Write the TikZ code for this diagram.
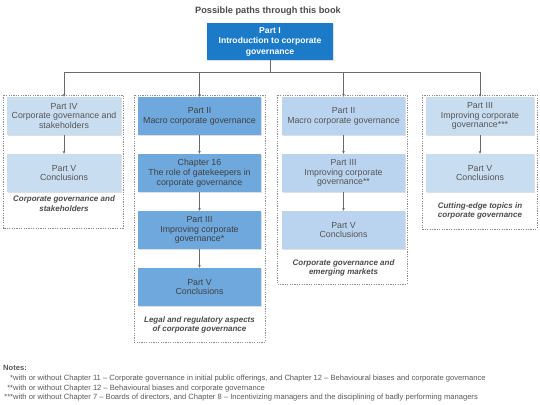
\documentclass[tikz,border=0pt]{standalone}
\usepackage{fontspec}
\setmainfont{Liberation Sans}
\usetikzlibrary{arrows.meta,shadows}
\definecolor{darkblue}{HTML}{1B7BC8}
\definecolor{midblue}{HTML}{6EA8DD}
\definecolor{lightblue}{HTML}{C9DDF1}
\definecolor{lightblueb}{HTML}{BAD3EF}
\definecolor{txtgray}{HTML}{555555}
\definecolor{linegray}{HTML}{6A6A6A}
\definecolor{dashgray}{HTML}{8A8A8A}
\tikzset{
  boxbase/.style={draw=none, align=center, minimum height=38pt, inner sep=1pt,
    font=\fontsize{8.8}{9.8}\selectfont, text=txtgray,
    drop shadow={shadow xshift=0.5pt, shadow yshift=-1.3pt, opacity=0.25}},
  lightbox/.style={boxbase, fill=lightblue},
  lightboxb/.style={boxbase, fill=lightblueb},
  midbox/.style={boxbase, fill=midblue, text=black!75},
  topbox/.style={boxbase, fill=darkblue, text=white, font=\bfseries\fontsize{8.6}{10.5}\selectfont},
  container/.style={draw=dashgray, line width=0.5pt, dash pattern=on 1.2pt off 1.2pt},
  grouplabel/.style={align=center, text=black!70, font=\bfseries\itshape\fontsize{8}{9.8}\selectfont},
  conn/.style={draw=linegray, line width=0.5pt},
  arr/.style={conn, -{Stealth[length=3pt,width=2.6pt]}},
  notetext/.style={anchor=base west, inner sep=0pt, text=black!65, font=\fontsize{7.6}{9}\selectfont}
}
\begin{document}
\begin{tikzpicture}[x=1pt,y=-1pt]
\useasboundingbox[fill=white] (0,0) rectangle (540,404);
% title
\node[font=\bfseries\fontsize{9.2}{11}\selectfont, text=black!70] (title) at (268,11) {Possible paths through this book};
% top box
\node[topbox, minimum width=126pt, minimum height=37pt] (p1) at (270,41.5) {Part I\\Introduction to corporate\\governance};
% containers
\draw[container] (3,95) rectangle (123,228);
\draw[container] (134,95) rectangle (265,342);
\draw[container] (277,95) rectangle (407,284);
\draw[container] (422,95) rectangle (537,229);
% column 1
\node[lightbox, minimum width=114pt] (a1) at (64,116) {Part IV\\Corporate governance and\\stakeholders};
\node[lightbox, minimum width=114pt] (a2) at (64,173) {Part V\\Conclusions};
\node[grouplabel] (la) at (64,204) {Corporate governance and\\stakeholders};
% column 2
\node[midbox, minimum width=123pt] (b1) at (199.5,116) {Part II\\Macro corporate governance};
\node[midbox, minimum width=123pt] (b2) at (199.5,173) {Chapter 16\\The role of gatekeepers in\\corporate governance};
\node[midbox, minimum width=123pt] (b3) at (199.5,230) {Part III\\Improving corporate\\governance*};
\node[midbox, minimum width=123pt] (b4) at (199.5,287) {Part V\\Conclusions};
\node[grouplabel] (lb) at (199.5,325) {Legal and regulatory aspects\\of corporate governance};
% column 3
\node[lightboxb, minimum width=123pt] (c1) at (343.5,116) {Part II\\Macro corporate governance};
\node[lightboxb, minimum width=123pt] (c2) at (343.5,173) {Part III\\Improving corporate\\governance**};
\node[lightboxb, minimum width=123pt] (c3) at (343.5,230) {Part V\\Conclusions};
\node[grouplabel] (lc) at (343.5,268) {Corporate governance and\\emerging markets};
% column 4
\node[lightbox, minimum width=108pt] (d1) at (480,116) {Part III\\Improving corporate\\governance***};
\node[lightbox, minimum width=108pt] (d2) at (480,173) {Part V\\Conclusions};
\node[grouplabel] (ld) at (480,211) {Cutting-edge topics in\\corporate governance};
% connectors
\coordinate (j) at (270,72);
\coordinate (jl) at (64,72);
\coordinate (jr) at (480,72);
\draw[conn] (p1.south) -- (j);
\draw[conn] (jl) -- (jr);
\draw[arr] (jl) -- (a1.north);
\draw[arr] (b1.north |- j) -- (b1.north);
\draw[arr] (c1.north |- j) -- (c1.north);
\draw[arr] (jr) -- (d1.north);
\draw[arr] (a1) -- (a2);
\draw[arr] (b1) -- (b2);
\draw[arr] (b2) -- (b3);
\draw[arr] (b3) -- (b4);
\draw[arr] (c1) -- (c2);
\draw[arr] (c2) -- (c3);
\draw[arr] (d1) -- (d2);
% notes
\node[notetext, font=\bfseries\fontsize{7.6}{9}\selectfont] (notes) at (3,370.5) {Notes:};
\node[notetext] (n1) at (3,380.5) {\makebox[10pt][r]{*}with or without Chapter 11 – Corporate governance in initial public offerings, and Chapter 12 – Behavioural biases and corporate governance};
\node[notetext] (n2) at (3,390) {\makebox[10pt][r]{**}with or without Chapter 12 – Behavioural biases and corporate governance};
\node[notetext] (n3) at (3,399.5) {\makebox[10pt][r]{***}with or without Chapter 7 – Boards of directors, and Chapter 8 – Incentivizing managers and the disciplining of badly performing managers};
\end{tikzpicture}
\end{document}
